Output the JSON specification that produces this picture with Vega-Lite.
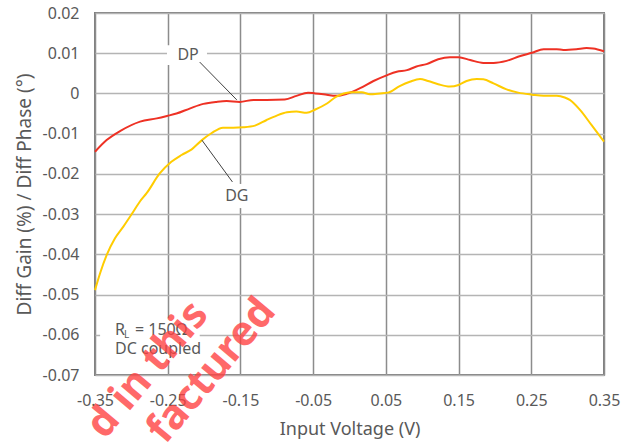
{
  "$schema": "https://vega.github.io/schema/vega-lite/v6.json",
  "width": 509,
  "height": 362,
  "autosize": "none",
  "padding": {"left": 95, "top": 13, "right": 30, "bottom": 70},
  "background": "white",
  "config": {
    "view": {"stroke": "#7f7f7f", "strokeWidth": 2},
    "font": "Noto Sans",
    "axis": {
      "labelFont": "Noto Sans", "labelFontSize": 16, "labelColor": "#595959",
      "titleFont": "Noto Sans", "titleFontSize": 18, "titleColor": "#595959", "titleFontWeight": "normal",
      "domain": false, "ticks": false, "labelFlush": false
    }
  },
  "layer": [
    {
      "data": {"values": [
        {"x1": -0.343, "x2": -0.206, "y1": -0.0559, "y2": -0.0663},
        {"x1": -0.251, "x2": -0.196, "y1": 0.0120, "y2": 0.0071},
        {"x1": -0.175, "x2": -0.134, "y1": -0.0225, "y2": -0.0285}
      ]},
      "mark": {"type": "rect", "fill": "white"},
      "encoding": {
        "x": {"field": "x1", "type": "quantitative",
              "scale": {"domain": [-0.35, 0.35], "nice": false, "zero": false},
              "axis": {"values": [-0.35, -0.25, -0.15, -0.05, 0.05, 0.15, 0.25, 0.35],
                       "labelExpr": "replace(format(datum.value, '.2f'), '\u2212', '-')",
                       "title": "Input Voltage (V)", "grid": true, "gridColor": "#8c8c8c", "gridWidth": 1.5,
                       "labelPadding": 17, "titlePadding": 12}},
        "x2": {"field": "x2"},
        "y": {"field": "y1", "type": "quantitative",
              "scale": {"domain": [-0.07, 0.02], "nice": false, "zero": false},
              "axis": {"values": [-0.07, -0.06, -0.05, -0.04, -0.03, -0.02, -0.01, 0, 0.01, 0.02],
                       "labelExpr": "replace(format(datum.value, '.2~f'), '\u2212', '-')",
                       "title": "Diff Gain (%) / Diff Phase (°)", "titleFontSize": 19, "grid": true, "gridColor": "#b4b4b4", "gridWidth": 1.5,
                       "labelPadding": 16, "titlePadding": 8}},
        "y2": {"field": "y2"}
      }
    },
    {
      "data": {"values": [
        {"s": "DP", "v": -0.35, "val": -0.0145},
        {"s": "DP", "v": -0.334, "val": -0.0116},
        {"s": "DP", "v": -0.315, "val": -0.0093},
        {"s": "DP", "v": -0.288, "val": -0.0070},
        {"s": "DP", "v": -0.265, "val": -0.0062},
        {"s": "DP", "v": -0.251, "val": -0.0056},
        {"s": "DP", "v": -0.238, "val": -0.0050},
        {"s": "DP", "v": -0.219, "val": -0.0037},
        {"s": "DP", "v": -0.201, "val": -0.0026},
        {"s": "DP", "v": -0.183, "val": -0.0021},
        {"s": "DP", "v": -0.169, "val": -0.0019},
        {"s": "DP", "v": -0.151, "val": -0.0021},
        {"s": "DP", "v": -0.132, "val": -0.0016},
        {"s": "DP", "v": -0.114, "val": -0.0016},
        {"s": "DP", "v": -0.089, "val": -0.0015},
        {"s": "DP", "v": -0.073, "val": -0.0006},
        {"s": "DP", "v": -0.057, "val": 0.0002},
        {"s": "DP", "v": -0.047, "val": 0.0},
        {"s": "DP", "v": -0.036, "val": -0.0002},
        {"s": "DP", "v": -0.018, "val": -0.0006},
        {"s": "DP", "v": -0.004, "val": -0.0001},
        {"s": "DP", "v": 0.0145, "val": 0.0013},
        {"s": "DP", "v": 0.033, "val": 0.0031},
        {"s": "DP", "v": 0.051, "val": 0.0045},
        {"s": "DP", "v": 0.065, "val": 0.0054},
        {"s": "DP", "v": 0.079, "val": 0.0058},
        {"s": "DP", "v": 0.092, "val": 0.0067},
        {"s": "DP", "v": 0.106, "val": 0.0073},
        {"s": "DP", "v": 0.122, "val": 0.0085},
        {"s": "DP", "v": 0.138, "val": 0.0090},
        {"s": "DP", "v": 0.150, "val": 0.0090},
        {"s": "DP", "v": 0.166, "val": 0.0083},
        {"s": "DP", "v": 0.184, "val": 0.0076},
        {"s": "DP", "v": 0.198, "val": 0.0076},
        {"s": "DP", "v": 0.216, "val": 0.0081},
        {"s": "DP", "v": 0.235, "val": 0.0093},
        {"s": "DP", "v": 0.251, "val": 0.0101},
        {"s": "DP", "v": 0.267, "val": 0.0110},
        {"s": "DP", "v": 0.285, "val": 0.0110},
        {"s": "DP", "v": 0.294, "val": 0.0108},
        {"s": "DP", "v": 0.312, "val": 0.0110},
        {"s": "DP", "v": 0.326, "val": 0.0113},
        {"s": "DP", "v": 0.335, "val": 0.0112},
        {"s": "DP", "v": 0.35, "val": 0.0105},
        {"s": "DG", "v": -0.35, "val": -0.0489},
        {"s": "DG", "v": -0.343, "val": -0.0447},
        {"s": "DG", "v": -0.334, "val": -0.0402},
        {"s": "DG", "v": -0.3225, "val": -0.0360},
        {"s": "DG", "v": -0.311, "val": -0.0331},
        {"s": "DG", "v": -0.2995, "val": -0.0300},
        {"s": "DG", "v": -0.288, "val": -0.0268},
        {"s": "DG", "v": -0.279, "val": -0.0248},
        {"s": "DG", "v": -0.261, "val": -0.0199},
        {"s": "DG", "v": -0.245, "val": -0.0170},
        {"s": "DG", "v": -0.231, "val": -0.0153},
        {"s": "DG", "v": -0.217, "val": -0.0139},
        {"s": "DG", "v": -0.203, "val": -0.0116},
        {"s": "DG", "v": -0.190, "val": -0.0099},
        {"s": "DG", "v": -0.174, "val": -0.0085},
        {"s": "DG", "v": -0.160, "val": -0.0085},
        {"s": "DG", "v": -0.146, "val": -0.0084},
        {"s": "DG", "v": -0.130, "val": -0.0080},
        {"s": "DG", "v": -0.114, "val": -0.0066},
        {"s": "DG", "v": -0.100, "val": -0.0055},
        {"s": "DG", "v": -0.086, "val": -0.0047},
        {"s": "DG", "v": -0.073, "val": -0.0045},
        {"s": "DG", "v": -0.059, "val": -0.0048},
        {"s": "DG", "v": -0.047, "val": -0.0040},
        {"s": "DG", "v": -0.031, "val": -0.0025},
        {"s": "DG", "v": -0.018, "val": -0.0008},
        {"s": "DG", "v": -0.008, "val": 0.0},
        {"s": "DG", "v": 0.005, "val": 0.0003},
        {"s": "DG", "v": 0.017, "val": 0.0003},
        {"s": "DG", "v": 0.028, "val": -0.0002},
        {"s": "DG", "v": 0.042, "val": 0.0},
        {"s": "DG", "v": 0.053, "val": 0.0002},
        {"s": "DG", "v": 0.069, "val": 0.0018},
        {"s": "DG", "v": 0.083, "val": 0.0029},
        {"s": "DG", "v": 0.097, "val": 0.0036},
        {"s": "DG", "v": 0.108, "val": 0.0031},
        {"s": "DG", "v": 0.122, "val": 0.0023},
        {"s": "DG", "v": 0.138, "val": 0.0017},
        {"s": "DG", "v": 0.150, "val": 0.0021},
        {"s": "DG", "v": 0.161, "val": 0.0031},
        {"s": "DG", "v": 0.175, "val": 0.0036},
        {"s": "DG", "v": 0.184, "val": 0.0035},
        {"s": "DG", "v": 0.198, "val": 0.0025},
        {"s": "DG", "v": 0.216, "val": 0.0010},
        {"s": "DG", "v": 0.232, "val": 0.0002},
        {"s": "DG", "v": 0.251, "val": -0.0003},
        {"s": "DG", "v": 0.267, "val": -0.0006},
        {"s": "DG", "v": 0.285, "val": -0.0006},
        {"s": "DG", "v": 0.296, "val": -0.0010},
        {"s": "DG", "v": 0.303, "val": -0.0016},
        {"s": "DG", "v": 0.317, "val": -0.0041},
        {"s": "DG", "v": 0.333, "val": -0.0079},
        {"s": "DG", "v": 0.35, "val": -0.0120}
      ]},
      "mark": {"type": "line", "strokeWidth": 2, "interpolate": "monotone"},
      "encoding": {
        "x": {"field": "v", "type": "quantitative"},
        "y": {"field": "val", "type": "quantitative"},
        "color": {"field": "s", "type": "nominal", "scale": {"domain": ["DP", "DG"], "range": ["#ee3124", "#ffcc00"]}, "legend": null},
        "order": {"field": "v", "type": "quantitative"}
      }
    },
    {
      "data": {"values": [
        {"x1": -0.206, "y1": 0.0078, "x2": -0.155, "y2": -0.0016},
        {"x1": -0.203, "y1": -0.0116, "x2": -0.161, "y2": -0.0220}
      ]},
      "mark": {"type": "rule", "color": "#404040", "strokeWidth": 1},
      "encoding": {
        "x": {"field": "x1", "type": "quantitative"},
        "y": {"field": "y1", "type": "quantitative"},
        "x2": {"field": "x2"},
        "y2": {"field": "y2"}
      }
    },
    {
      "data": {"values": [
        {"x": -0.222, "y": 0.0095, "t": "DP"},
        {"x": -0.155, "y": -0.0255, "t": "DG"}
      ]},
      "mark": {"type": "text", "fontSize": 16, "color": "#595959", "align": "center", "baseline": "middle"},
      "encoding": {
        "x": {"field": "x", "type": "quantitative"},
        "y": {"field": "y", "type": "quantitative"},
        "text": {"field": "t"}
      }
    },
    {
      "data": {"values": [
        {"x": -0.3225, "y": -0.0588, "t": "R"},
        {"x": -0.3225, "y": -0.0636, "t": "DC coupled"}
      ]},
      "mark": {"type": "text", "fontSize": 16, "color": "#595959", "align": "left", "baseline": "middle"},
      "encoding": {
        "x": {"field": "x", "type": "quantitative"},
        "y": {"field": "y", "type": "quantitative"},
        "text": {"field": "t"}
      }
    },
    {
      "data": {"values": [{"x": -0.3225, "y": -0.0588, "t": "L"}]},
      "mark": {"type": "text", "fontSize": 10, "color": "#595959", "align": "left", "baseline": "middle", "dx": 9, "dy": 5},
      "encoding": {
        "x": {"field": "x", "type": "quantitative"},
        "y": {"field": "y", "type": "quantitative"},
        "text": {"field": "t"}
      }
    },
    {
      "data": {"values": [{"x": -0.3225, "y": -0.0588, "t": "= 150Ω"}]},
      "mark": {"type": "text", "fontSize": 16, "color": "#595959", "align": "left", "baseline": "middle", "dx": 20},
      "encoding": {
        "x": {"field": "x", "type": "quantitative"},
        "y": {"field": "y", "type": "quantitative"},
        "text": {"field": "t"}
      }
    },
    {
      "data": {"values": [
        {"x": -0.277, "y": -0.0688, "t": "d in this"},
        {"x": -0.189, "y": -0.0690, "t": "factured"}
      ]},
      "mark": {"type": "text", "font": "Noto Sans", "fontWeight": "bold", "fontSize": 41, "color": "#ff4040", "opacity": 0.78, "angle": -50, "align": "center", "baseline": "middle"},
      "encoding": {
        "x": {"field": "x", "type": "quantitative"},
        "y": {"field": "y", "type": "quantitative"},
        "text": {"field": "t"}
      }
    }
  ]
}
